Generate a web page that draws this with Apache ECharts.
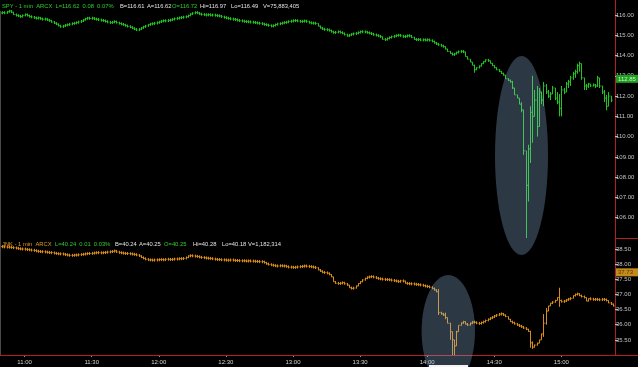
<!DOCTYPE html>
<html><head><meta charset="utf-8">
<script src="https://cdn.jsdelivr.net/npm/echarts@6/dist/echarts.min.js"></script>
<style>html,body{margin:0;padding:0;background:#000;}#c{width:638px;height:367px;}</style>
</head><body><div id="c"></div>
<script>
// ---------- DATA ----------
const timeStart = '10:49';
const timeCount = 276; // 10:49 .. 15:24, one-minute bars
const xTickLabels = ['11:00','11:30','12:00','12:30','13:00','13:30','14:00','14:30','15:00'];
const spyTicks = [106,107,108,109,110,111,112,113,114,115,116];
const jnkTicks = [35.5,36,36.5,37,37.5,38,38.5];

const spyHeader = ['SPY - 1 min  ARCX  L=116.62  0.08  0.07%','B=116.61','A=116.62','O=116.72','Hi=116.97','Lo=116.49','V=75,883,405'];
const jnkHeader = ['JNK - 1 min  ARCX','L=40.24  0.01  0.03%','B=40.24','A=40.25','O=40.25','Hi=40.28','Lo=40.18','V=1,182,314'];
const spyLast = 112.85;
const jnkLast = 37.73;

const spyClose = [
116.10,116.12,116.10,116.16,116.20,116.14,116.02,115.98,115.95,115.92,
115.98,116.03,115.97,115.92,115.90,115.86,115.84,115.86,115.81,115.79,
115.80,115.75,115.72,115.66,115.60,115.55,115.47,115.42,115.46,115.50,
115.52,115.55,115.58,115.60,115.63,115.66,115.70,115.76,115.82,115.85,
115.83,115.85,115.80,115.79,115.76,115.74,115.72,115.68,115.65,115.62,
115.65,115.68,115.62,115.58,115.55,115.52,115.47,115.44,115.40,115.35,
115.30,115.26,115.30,115.36,115.42,115.46,115.52,115.56,115.57,115.60,
115.62,115.66,115.70,115.72,115.71,115.74,115.75,115.79,115.82,115.84,
115.86,115.88,115.90,115.92,115.97,116.05,116.09,116.13,116.10,116.05,
116.03,116.01,116.00,116.02,115.99,116.00,115.98,115.96,115.95,115.91,
115.88,115.85,115.83,115.80,115.79,115.77,115.74,115.72,115.70,115.68,
115.67,115.66,115.65,115.64,115.62,115.60,115.59,115.56,115.53,115.51,
115.48,115.45,115.48,115.53,115.56,115.58,115.61,115.63,115.65,115.68,
115.70,115.72,115.73,115.70,115.68,115.69,115.71,115.67,115.62,115.60,
115.60,115.58,115.45,115.36,115.31,115.28,115.27,115.24,115.17,115.13,
115.15,115.18,115.14,115.10,115.03,114.97,115.01,115.06,115.07,115.10,
115.14,115.18,115.17,115.16,115.13,115.10,115.07,115.03,115.00,114.96,
114.93,114.80,114.78,114.85,114.89,114.93,114.96,114.99,115.01,114.97,
114.93,114.95,114.98,114.97,114.90,114.80,114.78,114.80,114.76,114.78,
114.76,114.78,114.75,114.70,114.62,114.57,114.53,114.48,114.44,114.32,
114.20,114.11,114.04,114.08,114.16,114.19,114.21,114.18,113.95,113.82,
113.68,113.52,113.30,113.40,113.48,113.60,113.70,113.78,113.74,113.62,
113.50,113.40,113.30,113.22,113.12,113.04,112.85,112.78,112.70,112.40,
112.06,111.90,111.60,111.32,109.30,107.60,109.40,111.20,111.00,111.80,
110.50,112.20,111.80,112.50,112.20,112.00,112.10,112.40,111.90,111.70,
111.40,112.30,112.20,112.60,112.70,112.90,113.10,113.20,113.50,113.60,
112.90,112.50,112.50,112.60,112.50,112.55,112.50,112.90,112.50,112.20,
111.90,111.50,112.00,111.80
];
// wide bars: [bar index, low, high]
const spyRange = [
[212,113.15,113.55],[229,112.35,112.75],[233,111.20,111.70],[234,109.10,111.30],
[235,105.00,108.50],[236,106.80,109.60],[237,108.70,111.50],[238,109.70,113.00],
[239,111.50,112.30],[240,110.00,112.50],[241,110.80,112.40],[242,111.60,112.00],
[243,111.50,112.70],[244,112.10,112.60],[245,111.90,112.30],[246,111.80,112.20],
[247,112.10,112.50],[248,111.80,112.40],[249,111.60,112.20],[250,111.00,112.10],
[251,111.00,112.50],[252,112.10,112.40],[253,112.20,112.70],[254,112.40,112.80],
[255,112.50,113.00],[256,112.80,113.20],[257,112.90,113.30],[258,113.10,113.60],
[259,113.20,113.70],[260,112.80,113.40],[261,112.30,112.80],[262,112.30,112.60],
[263,112.40,112.65],[264,112.45,112.60],[265,112.50,112.60],[266,112.40,112.60],
[267,112.45,113.00],[268,112.40,112.90],[269,112.10,112.50],[270,111.70,112.30],
[271,111.30,112.06],[272,111.70,112.20],[273,111.70,112.00]
];

const jnkClose = [
38.58,38.57,38.57,38.56,38.56,38.55,38.54,38.53,38.51,38.50,
38.50,38.49,38.48,38.47,38.46,38.45,38.43,38.42,38.41,38.41,
38.40,38.39,38.38,38.38,38.36,38.35,38.34,38.34,38.33,38.31,
38.30,38.29,38.29,38.30,38.30,38.31,38.32,38.33,38.34,38.35,
38.35,38.36,38.37,38.38,38.38,38.37,38.38,38.39,38.40,38.41,
38.42,38.44,38.40,38.38,38.37,38.36,38.35,38.35,38.34,38.33,
38.32,38.30,38.27,38.22,38.19,38.16,38.14,38.14,38.13,38.14,
38.14,38.15,38.15,38.14,38.16,38.16,38.15,38.16,38.17,38.17,
38.18,38.18,38.19,38.22,38.27,38.28,38.27,38.26,38.25,38.23,
38.22,38.21,38.20,38.19,38.19,38.17,38.16,38.15,38.15,38.14,
38.14,38.13,38.13,38.14,38.13,38.12,38.12,38.11,38.11,38.11,
38.10,38.11,38.10,38.10,38.09,38.09,38.08,38.08,38.05,38.01,
37.99,37.97,37.96,37.94,37.94,37.95,37.94,37.94,37.92,37.90,
37.90,37.89,37.90,37.91,37.92,37.93,37.94,37.93,37.92,37.91,
37.90,37.88,37.81,37.77,37.73,37.72,37.70,37.66,37.58,37.42,
37.37,37.36,37.37,37.39,37.35,37.31,37.22,37.20,37.21,37.28,
37.36,37.42,37.48,37.53,37.57,37.58,37.59,37.57,37.54,37.52,
37.51,37.50,37.49,37.49,37.48,37.47,37.45,37.44,37.42,37.45,
37.44,37.37,37.36,37.35,37.35,37.34,37.33,37.32,37.31,37.29,
37.27,37.26,37.24,37.20,37.15,37.09,36.40,36.36,36.32,36.24,
36.05,35.77,35.50,35.30,35.77,35.98,36.06,36.10,36.02,35.99,
36.05,36.09,36.08,36.05,36.04,36.07,36.10,36.14,36.18,36.22,
36.25,36.29,36.32,36.35,36.36,36.32,36.27,36.18,36.10,36.07,
36.03,35.99,35.96,35.93,35.89,35.85,35.78,35.40,35.26,35.33,
35.39,35.50,35.70,36.05,36.45,36.62,36.71,36.75,36.80,36.90,
36.80,36.76,36.78,36.82,36.85,36.87,36.96,37.00,37.02,36.96,
36.93,36.90,36.78,36.86,36.85,36.83,36.84,36.83,36.82,36.84,
36.83,36.80,36.72,36.68,36.62
];
const jnkRange = [
[196,36.32,37.18],[199,36.18,36.40],[201,35.50,36.06],[202,35.00,35.77],
[203,35.00,35.50],[204,35.30,35.80],[237,35.24,35.80],[238,35.20,35.45],
[243,35.60,36.35],[244,36.00,36.55],[250,36.59,37.22]
];

// ---------- BUILD ----------
function buildCategories(start, n) {
  const p = start.split(':');
  let m = (+p[0]) * 60 + (+p[1]);
  const out = [];
  for (let k = 0; k < n; k++, m++) {
    out.push(Math.floor(m / 60) + ':' + String(m % 60).padStart(2, '0'));
  }
  return out;
}
const categories = buildCategories(timeStart, timeCount);

function buildBars(close, ranges) {
  const rmap = {};
  ranges.forEach(r => { rmap[r[0]] = r; });
  return close.map((c, i) => {
    const o = i > 0 ? close[i - 1] : c;
    let lo = Math.min(o, c), hi = Math.max(o, c);
    if (rmap[i]) { lo = Math.min(lo, rmap[i][1]); hi = Math.max(hi, rmap[i][2]); }
    return [i, o, c, lo, hi];
  });
}
const spyBars = buildBars(spyClose, spyRange);
const jnkBars = buildBars(jnkClose, jnkRange);

// ---------- STYLE / LAYOUT ----------
const FONT = '"Liberation Sans", Arial, sans-serif';
const RED = '#b41e1e';
const GREEN = '#22c422';
const ORANGE = '#d98c18';
const WHITE = '#e2e2e2';
const TXTGREEN = '#2ccf2c';
const TXTORANGE = '#e39a22';
const HEADFONT = '5.8px ' + FONT;

function barRenderer(color) {
  return function (params, api) {
    const i = api.value(0);
    const pO = api.coord([i, api.value(1)]);
    const pC = api.coord([i, api.value(2)]);
    const pL = api.coord([i, api.value(3)]);
    const pH = api.coord([i, api.value(4)]);
    let y1 = pH[1], y2 = pL[1];
    if (y2 - y1 < 3) { const m = (y1 + y2) / 2; y1 = m - 1.5; y2 = m + 1.5; }
    const x = Math.round(pH[0]) + 0.5;
    const st = { stroke: color, lineWidth: 1 };
    return { type: 'group', children: [
      { type: 'line', shape: { x1: x, y1: y1, x2: x, y2: y2 }, style: st },
      { type: 'line', shape: { x1: x - 1, y1: pO[1], x2: x, y2: pO[1] }, style: st },
      { type: 'line', shape: { x1: x, y1: pC[1], x2: x + 1.2, y2: pC[1] }, style: st }
    ]};
  };
}

function yAxisCfg(grid, min, max, interval, ticks) {
  return {
    type: 'value', gridIndex: grid, position: 'right', min: min, max: max, interval: interval,
    axisLine: { show: true, lineStyle: { color: RED, width: 1 } },
    axisTick: { show: true, length: 3, lineStyle: { color: '#bdbdbd' } },
    splitLine: { show: false },
    axisLabel: {
      margin: 1, color: '#c4c4c4', fontSize: 6, fontFamily: FONT,
      showMinLabel: false, showMaxLabel: false,
      formatter: v => ticks.some(t => Math.abs(t - v) < 1e-6) ? v.toFixed(2) : ''
    }
  };
}
const isTick = (idx, val) => xTickLabels.indexOf(val) >= 0;

const spyHeaderX = [2, 120, 147, 172, 200, 231, 263];
const spyHeaderC = [TXTGREEN, WHITE, WHITE, TXTGREEN, WHITE, WHITE, WHITE];
const jnkHeaderX = [2, 55, 115, 139, 164, 193, 222, 248];
const jnkHeaderC = [TXTORANGE, TXTGREEN, WHITE, WHITE, TXTGREEN, WHITE, WHITE, WHITE];

const graphics = [];
spyHeader.forEach((t, k) => graphics.push({ type: 'text', z: 120, x: spyHeaderX[k], y: 6,
  style: { text: t, fill: spyHeaderC[k], font: HEADFONT, textVerticalAlign: 'middle' } }));
jnkHeader.forEach((t, k) => graphics.push({ type: 'text', z: 120, x: jnkHeaderX[k], y: 244,
  style: { text: t, fill: jnkHeaderC[k], font: HEADFONT, textVerticalAlign: 'middle' } }));
// frame lines
graphics.push({ type: 'line', z: 60, shape: { x1: 0, y1: 355.5, x2: 638, y2: 355.5 }, style: { stroke: RED, lineWidth: 1 } });
graphics.push({ type: 'line', z: 60, shape: { x1: 615, y1: 238.5, x2: 638, y2: 238.5 }, style: { stroke: RED, lineWidth: 1 } });
graphics.push({ type: 'line', z: 60, shape: { x1: 0.5, y1: 12, x2: 0.5, y2: 355 }, style: { stroke: '#4a4a4a', lineWidth: 1 } });
// highlight ellipses
graphics.push({ type: 'ellipse', z: 100, shape: { cx: 521.5, cy: 155.5, rx: 26.5, ry: 99.5 }, style: { fill: 'rgba(150,185,230,0.3)' } });
graphics.push({ type: 'ellipse', z: 100, shape: { cx: 448.3, cy: 331, rx: 26.7, ry: 56 }, style: { fill: 'rgba(150,185,230,0.3)' } });
graphics.push({ type: 'rect', z: 101, shape: { x: 429, y: 365, width: 39, height: 2 }, style: { fill: '#f4f4f4' } });

const option = {
  backgroundColor: '#000',
  animation: false,
  grid: [
    { left: 0, right: 23, top: 0, height: 238 },
    { left: 0, right: 23, top: 238, height: 117 }
  ],
  xAxis: [
    { type: 'category', gridIndex: 0, data: categories, boundaryGap: false,
      axisLine: { show: false }, axisTick: { show: false }, axisLabel: { show: false }, splitLine: { show: false } },
    { type: 'category', gridIndex: 1, data: categories, boundaryGap: false,
      axisLine: { show: false },
      axisTick: { show: true, interval: isTick, length: 2, lineStyle: { color: '#9a9a9a' } },
      axisLabel: { interval: isTick, color: '#d4d4d4', fontSize: 6, fontFamily: FONT, margin: 4 },
      splitLine: { show: false } }
  ],
  yAxis: [
    yAxisCfg(0, 105, 116.74, 1, spyTicks),
    yAxisCfg(1, 35, 38.863, 0.5, jnkTicks)
  ],
  series: [
    { type: 'custom', xAxisIndex: 0, yAxisIndex: 0, z: 5, renderItem: barRenderer(GREEN),
      encode: { x: 0, y: [1, 2, 3, 4] }, data: spyBars, clip: true },
    { type: 'custom', xAxisIndex: 1, yAxisIndex: 1, z: 5, renderItem: barRenderer(ORANGE),
      encode: { x: 0, y: [1, 2, 3, 4] }, data: jnkBars, clip: true }
  ],
  graphic: graphics
};

const chart = echarts.init(document.getElementById('c'), null, { renderer: 'canvas' });
chart.setOption(option);

// last-price boxes placed through the axes
function lastBox(yAxisIdx, value, bg, fg) {
  const py = chart.convertToPixel({ yAxisIndex: yAxisIdx }, value);
  return [
    { type: 'rect', z: 110, shape: { x: 616, y: py - 4, width: 22, height: 8 }, style: { fill: bg } },
    { type: 'text', z: 111, x: 618, y: py, style: { text: value.toFixed(2), fill: fg, font: '6px ' + FONT, textVerticalAlign: 'middle' } }
  ];
}
const extra = [].concat(
  lastBox(0, spyLast, '#1f9e1f', '#c9f5c9'),
  lastBox(1, jnkLast, '#c48a1c', '#5a3600')
);
chart.setOption({ graphic: graphics.concat(extra) });
</script>
</body></html>
